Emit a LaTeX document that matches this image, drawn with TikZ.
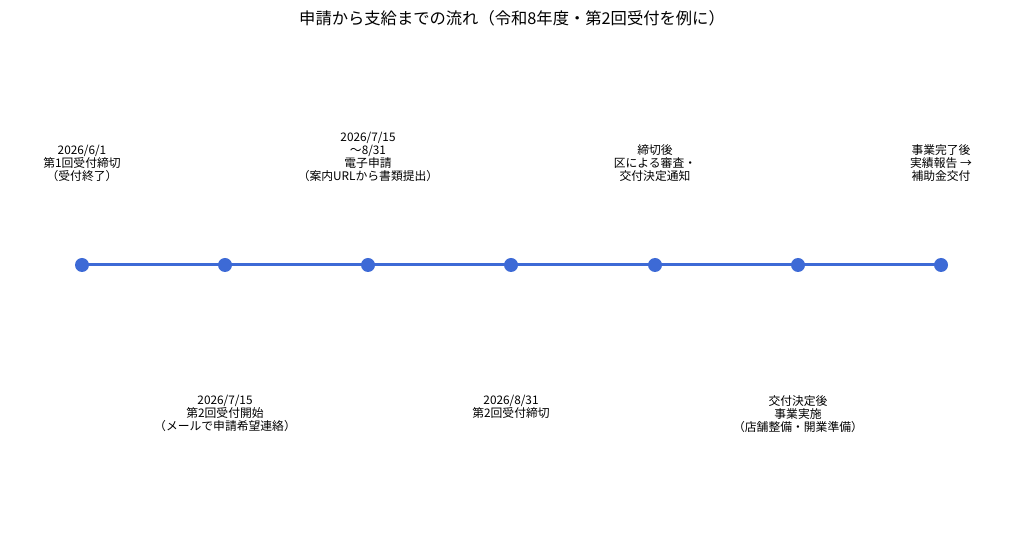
\documentclass[tikz,border=0pt]{standalone}
\usepackage{fontspec}
\setmainfont{Noto Sans CJK JP}
\definecolor{tl}{HTML}{3D6AD6}
\begin{document}
\begin{tikzpicture}[x=1pt,y=1pt,
  dot/.style={circle,fill=tl,inner sep=0pt,minimum size=14pt},
  conn/.style={draw=tl,line width=3pt},
  lbl/.style={align=center,inner sep=0pt,font=\fontsize{11.8}{13}\selectfont},
  up/.style={lbl,anchor=south},
  down/.style={lbl,anchor=north}]
\useasboundingbox (0,0) rectangle (1024,559);
\node[font=\fontsize{16.3}{18}\selectfont] (title) at (512,541) {申請から支給までの流れ（令和8年度・第2回受付を例に）};
\foreach \i/\x in {1/82,2/225,3/368,4/511,5/655,6/798,7/941}{
  \coordinate (p\i) at (\x,294);
}
\draw[conn] (p1) -- (p2) -- (p3) -- (p4) -- (p5) -- (p6) -- (p7);
\foreach \i in {1,...,7}{\node[dot] (d\i) at (p\i) {};}
\node[up] (l1) at (82,377) {2026/6/1\\第1回受付締切\\（受付終了）};
\node[up] (l3) at (368,377) {2026/7/15\\～8/31\\電子申請\\（案内URLから書類提出）};
\node[up] (l5) at (655,377) {締切後\\区による審査・\\交付決定通知};
\node[up] (l7) at (941,377) {事業完了後\\実績報告 →\\補助金交付};
\node[down] (l2) at (225,164) {2026/7/15\\第2回受付開始\\（メールで申請希望連絡）};
\node[down] (l4) at (511,164) {2026/8/31\\第2回受付締切};
\node[down] (l6) at (798,164) {交付決定後\\事業実施\\（店舗整備・開業準備）};
\end{tikzpicture}
\end{document}
